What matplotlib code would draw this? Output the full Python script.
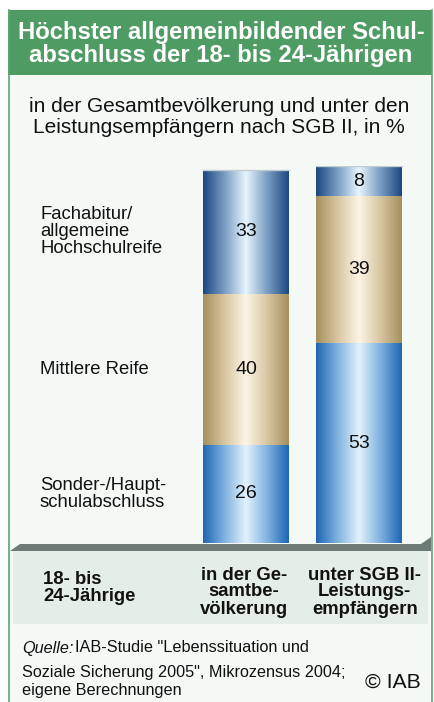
import numpy as np
import matplotlib
matplotlib.use("Agg")
import matplotlib.pyplot as plt
from matplotlib.colors import to_rgb
from matplotlib.patches import Rectangle, Polygon
import matplotlib.transforms as mtransforms

plt.rcParams['font.family'] = ['Liberation Sans', 'DejaVu Sans']

# ---- data ----
categories = ["in der Ge-\nsamtbe-\nvölkerung", "unter SGB II-\nLeistungs-\nempfängern"]
segment_labels = ["Sonder-/Haupt-\nschulabschluss", "Mittlere Reife",
                  "Fachabitur/\nallgemeine\nHochschulreife"]
hauptschule = [26, 53]
mittlere = [40, 39]
abitur = [33, 8]

title = "Höchster allgemeinbildender Schul-\nabschluss der 18- bis 24-Jährigen"
subtitle = "in der Gesamtbevölkerung und unter den\nLeistungsempfängern nach SGB II, in %"
group_label = "18- bis\n24-Jährige"

# ---- figure ----
W, H = 434, 702
fig = plt.figure(figsize=(W / 100, H / 100), dpi=100)
fig.patch.set_facecolor('white')

bg = fig.add_axes([0, 0, 1, 1])
bg.set_xlim(0, W)
bg.set_ylim(H, 0)
bg.axis('off')

green = '#4e9b63'
# interior
bg.add_patch(Rectangle((8, 75), 424, H - 75, facecolor='#f5f9f6', edgecolor='none', zorder=0))
# header
bg.add_patch(Rectangle((8, 10), 424, 65, facecolor=green, edgecolor='none', zorder=1))
# frame lines
bg.plot([8.5, 8.5], [10, H], color='#5da771', lw=1.2, zorder=2)
bg.plot([431.5, 431.5], [10, H], color='#5da771', lw=1.2, zorder=2)
# lower panel
bg.add_patch(Rectangle((13, 551), 415, 73, facecolor='#e4eee6', edgecolor='none', zorder=1))
# floor
bg.add_patch(Polygon([(10, 551), (20, 544), (421, 544), (431, 537), (431, 551)],
                     closed=True, facecolor='#6e7a75', edgecolor='none', zorder=2))

bg.text(221, 44, title, ha='center', va='center', color='white', fontsize=17.2,
        fontweight='bold', linespacing=1.03, zorder=3)
bg.text(219, 117, subtitle, ha='center', va='center', color='#111111', fontsize=15,
        linespacing=1.08, zorder=3)
bg.text(43, 588, group_label, ha='left', va='center', color='#111111', fontsize=13.3,
        fontweight='bold', linespacing=1.0, zorder=3)

# source
bg.text(22, 648, "Quelle:", ha='left', va='center', fontsize=11.7, style='italic',
        color='#111111', zorder=3)
bg.text(75, 648, 'IAB-Studie "Lebenssituation und', ha='left', va='center', fontsize=11.7,
        color='#111111', zorder=3)
bg.text(22, 682, 'Soziale Sicherung 2005", Mikrozensus 2004;\neigene Berechnungen',
        ha='left', va='center', fontsize=11.7, color='#111111', linespacing=1.25, zorder=3)
bg.text(421, 682, "© IAB", ha='right', va='center', fontsize=15.3, color='#111111', zorder=3)

# ---- bar axes ----
ax = fig.add_axes([189.5 / W, (H - 543) / H, 226 / W, 377 / H])
ax.patch.set_alpha(0)
for s in ax.spines.values():
    s.set_visible(False)
ax.set_xticks([])
ax.set_yticks([])

x = np.arange(len(categories))
width = 0.761
bottoms2 = np.array(hauptschule) + np.array(mittlere)

c1 = ax.bar(x, hauptschule, width, color='#1f66b2', zorder=1)
c2 = ax.bar(x, mittlere, width, bottom=hauptschule, color='#a58f5e', zorder=1)
c3 = ax.bar(x, abitur, width, bottom=bottoms2, color='#1c4780', zorder=1)


def grad_img(edge, mid, center, n=200):
    t = np.abs(np.linspace(-1, 1, n))
    e = np.array(to_rgb(edge))
    m = np.array(to_rgb(mid))
    c = np.array(to_rgb(center))
    row = np.zeros((n, 3))
    for i, tt in enumerate(t):
        if tt < 0.5:
            f = tt / 0.5
            row[i] = c * (1 - f) + m * f
        else:
            f = (tt - 0.5) / 0.5
            row[i] = m * (1 - f) + e * f
    return row[None, :, :]


styles = [(c1, grad_img('#1f66b2', '#7fb2e0', '#e2f2fc')),
          (c2, grad_img('#a58f5e', '#d8c6a2', '#fdf4e5')),
          (c3, grad_img('#1c4780', '#7a9dc2', '#e6f5fd'))]

for cont, img in styles:
    for p in cont:
        x0, y0, w, h = p.get_x(), p.get_y(), p.get_width(), p.get_height()
        im = ax.imshow(img, extent=[x0, x0 + w, y0, y0 + h], aspect='auto',
                       interpolation='bilinear', zorder=2)
        im.set_clip_path(p)
    ax.bar_label(cont, label_type='center', fontsize=14, color='#111111', zorder=4)

# thin top rim
totals = np.array(hauptschule) + np.array(mittlere) + np.array(abitur)
for xi, t in zip(x, totals):
    ax.plot([xi - width / 2, xi + width / 2], [t, t], color='#c3cbce', lw=1, zorder=3)

ax.set_xlim(-0.5, 1.5)
ax.set_ylim(0, 100)

# segment labels at middle of first bar's segments
trans = mtransforms.blended_transform_factory(fig.transFigure, ax.transData)
mids = [hauptschule[0] / 2,
        hauptschule[0] + mittlere[0] / 2,
        bottoms2[0] + abitur[0] / 2]
for lab, m in zip(segment_labels, mids):
    ax.text(40 / W, m, lab, transform=trans, ha='left', va='center', fontsize=13.3,
            color='#111111', linespacing=1.0, clip_on=False)

# category labels in lower panel
transc = mtransforms.blended_transform_factory(ax.transData, fig.transFigure)
offsets = [-0.02, 0.05]
for xi, lab, off in zip(x, categories, offsets):
    ax.text(xi + off, 1 - 592 / H, lab, transform=transc, ha='center', va='center',
            fontsize=13.3, fontweight='bold', color='#111111', linespacing=1.0,
            clip_on=False)

fig.savefig("out.png", dpi=100)
